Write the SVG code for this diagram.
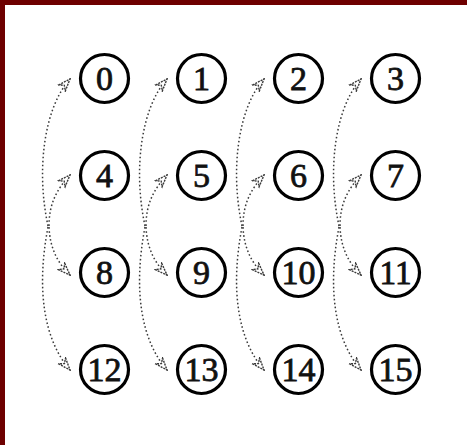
<svg xmlns="http://www.w3.org/2000/svg" width="467" height="445" viewBox="0 0 467 445">
<defs>
<style>
.n circle{fill:#fff;stroke:#000;stroke-width:3.2}
.n text{font-family:"Liberation Serif","DejaVu Serif",serif;font-size:34px;fill:#111;stroke:#111;stroke-width:0.8;text-anchor:middle}
.e path{fill:none;stroke:#3a3a3a;stroke-width:1.5;stroke-dasharray:1.6 2.4;marker-end:url(#ah)}
</style>
<marker id="ah" viewBox="0 0 14 12" refX="13" refY="6" markerWidth="14" markerHeight="12" markerUnits="userSpaceOnUse" orient="auto">
<path d="M1,1.5 L13,6 L1,10.5 L4.5,6 Z" fill="#fff" stroke="#3a3a3a" stroke-width="1.4" stroke-dasharray="2 1"/>
</marker>
</defs>
<rect x="0" y="0" width="467" height="445" fill="#fff"/>
<rect x="0" y="0" width="467" height="5" fill="#6e0000"/>
<rect x="0" y="0" width="5" height="445" fill="#6e0000"/>
<g id="connectors" class="e">
<g transform="translate(0,0)">
<path d="M48,226 C36,170 44,108 70,79"/>
<path d="M49,226 C49,205 56,190 70,175"/>
<path d="M49,227 C50,248 57,262 70,275"/>
<path d="M48,227 C36,290 44,340 70,370"/>
</g>
<g transform="translate(97,0)">
<path d="M48,226 C36,170 44,108 70,79"/>
<path d="M49,226 C49,205 56,190 70,175"/>
<path d="M49,227 C50,248 57,262 70,275"/>
<path d="M48,227 C36,290 44,340 70,370"/>
</g>
<g transform="translate(194,0)">
<path d="M48,226 C36,170 44,108 70,79"/>
<path d="M49,226 C49,205 56,190 70,175"/>
<path d="M49,227 C50,248 57,262 70,275"/>
<path d="M48,227 C36,290 44,340 70,370"/>
</g>
<g transform="translate(291,0)">
<path d="M48,226 C36,170 44,108 70,79"/>
<path d="M49,226 C49,205 56,190 70,175"/>
<path d="M49,227 C50,248 57,262 70,275"/>
<path d="M48,227 C36,290 44,340 70,370"/>
</g>
</g>
<g id="n0" class="n"><circle cx="104.5" cy="78.5" r="24"/><text x="104.5" y="90">0</text></g>
<g id="n1" class="n"><circle cx="201.5" cy="78.5" r="24"/><text x="201.5" y="90">1</text></g>
<g id="n2" class="n"><circle cx="298.5" cy="78.5" r="24"/><text x="298.5" y="90">2</text></g>
<g id="n3" class="n"><circle cx="395.5" cy="78.5" r="24"/><text x="395.5" y="90">3</text></g>
<g id="n4" class="n"><circle cx="104.5" cy="175.5" r="24"/><text x="104.5" y="187">4</text></g>
<g id="n5" class="n"><circle cx="201.5" cy="175.5" r="24"/><text x="201.5" y="187">5</text></g>
<g id="n6" class="n"><circle cx="298.5" cy="175.5" r="24"/><text x="298.5" y="187">6</text></g>
<g id="n7" class="n"><circle cx="395.5" cy="175.5" r="24"/><text x="395.5" y="187">7</text></g>
<g id="n8" class="n"><circle cx="104.5" cy="272.5" r="24"/><text x="104.5" y="284">8</text></g>
<g id="n9" class="n"><circle cx="201.5" cy="272.5" r="24"/><text x="201.5" y="284">9</text></g>
<g id="n10" class="n"><circle cx="298.5" cy="272.5" r="24"/><text x="298.5" y="284" textLength="34" lengthAdjust="spacingAndGlyphs">10</text></g>
<g id="n11" class="n"><circle cx="395.5" cy="272.5" r="24"/><text x="395.5" y="284" textLength="32" lengthAdjust="spacingAndGlyphs">11</text></g>
<g id="n12" class="n"><circle cx="104.5" cy="369.5" r="24"/><text x="104.5" y="381" textLength="34" lengthAdjust="spacingAndGlyphs">12</text></g>
<g id="n13" class="n"><circle cx="201.5" cy="369.5" r="24"/><text x="201.5" y="381" textLength="34" lengthAdjust="spacingAndGlyphs">13</text></g>
<g id="n14" class="n"><circle cx="298.5" cy="369.5" r="24"/><text x="298.5" y="381" textLength="34" lengthAdjust="spacingAndGlyphs">14</text></g>
<g id="n15" class="n"><circle cx="395.5" cy="369.5" r="24"/><text x="395.5" y="381" textLength="34" lengthAdjust="spacingAndGlyphs">15</text></g>
</svg>
